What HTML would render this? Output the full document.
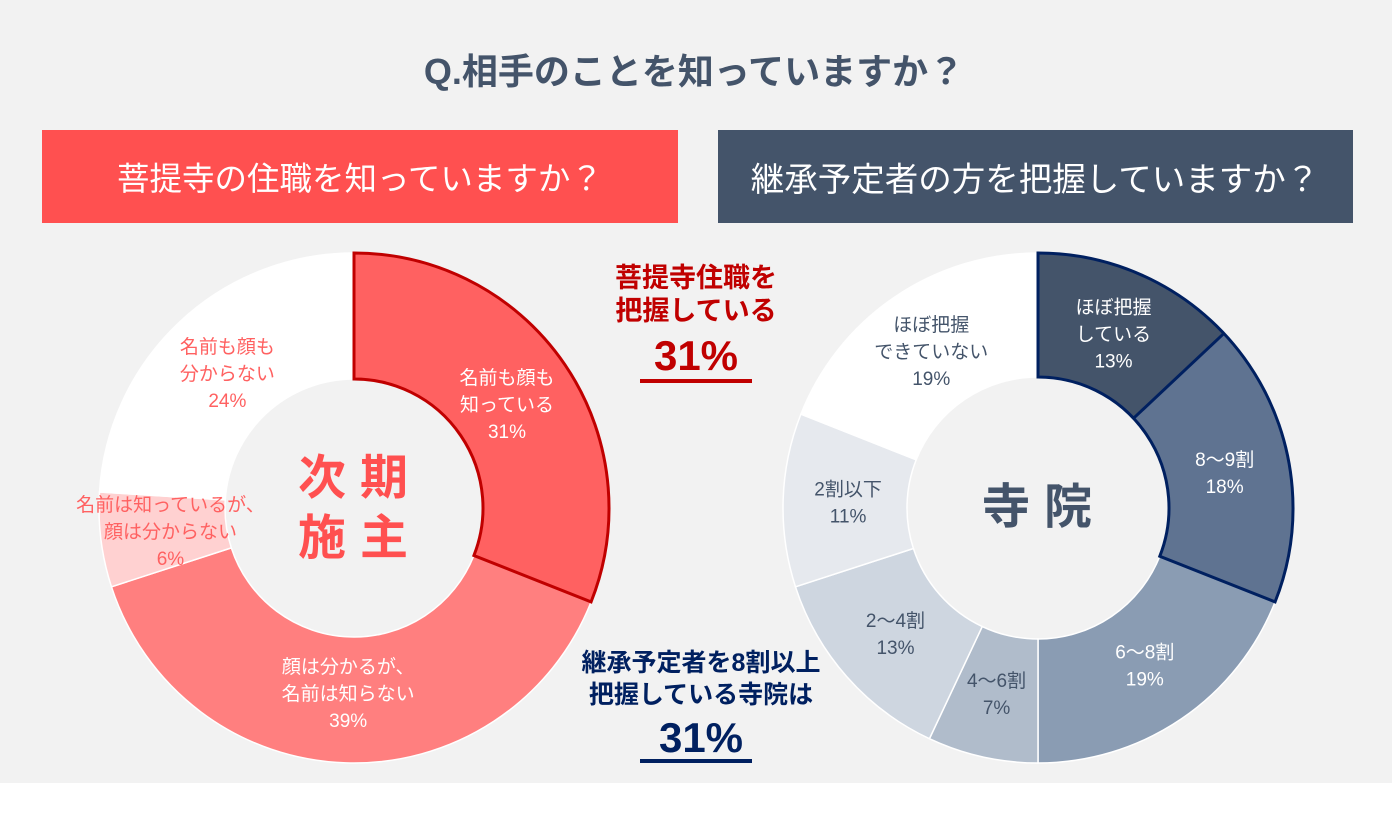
<!DOCTYPE html>
<html><head><meta charset="utf-8">
<style>
body{margin:0;width:1392px;height:819px;background:#fff;font-family:"Liberation Sans","Noto Sans CJK JP",sans-serif;overflow:hidden}
#bg{position:absolute;left:0;top:0;width:1392px;height:783px;background:#f2f2f2}
svg{position:absolute;left:0;top:0}
</style></head><body>
<div id="bg"></div>
<svg id="s" width="1392" height="819">
<text x="694" y="84" text-anchor="middle" font-size="36" font-weight="bold" fill="#44546a">Q.相手のことを知っていますか？</text>
<rect x="42" y="130" width="636" height="93" fill="#ff5050"/>
<text x="360" y="190" text-anchor="middle" font-size="32.5" fill="#fff">菩提寺の住職を知っていますか？</text>
<rect x="718" y="130" width="635" height="93" fill="#44546a"/>
<text x="1035" y="191" text-anchor="middle" font-size="33.5" fill="#fff">継承予定者の方を把握していますか？</text>
<g fill="#c00000" font-weight="bold" text-anchor="middle">
<text x="696" y="287" font-size="27">菩提寺住職を</text>
<text x="696" y="320" font-size="27">把握している</text>
<text x="696" y="370" font-size="42">31%</text>
<rect x="640" y="379" width="112" height="4"/>
</g>
<g fill="#002060" font-weight="bold" text-anchor="middle">
<text x="701" y="671" font-size="25">継承予定者を8割以上</text>
<text x="701" y="703" font-size="25">把握している寺院は</text>
<text x="701" y="752" font-size="42">31%</text>
<rect x="640" y="759" width="112" height="4"/>
</g>
</svg>
<script>
const leftValues=[31,39,6,24];
const leftLabels=[["名前も顔も","知っている","31%"],["顔は分かるが、","名前は知らない","39%"],["名前は知っているが、","顔は分からない","6%"],["名前も顔も","分からない","24%"]];
const rightValues=[13,18,19,7,13,11,19];
const rightLabels=[["ほぼ把握","している","13%"],["8～9割","18%"],["6～8割","19%"],["4～6割","7%"],["2～4割","13%"],["2割以下","11%"],["ほぼ把握","できていない","19%"]];
const NS="http://www.w3.org/2000/svg";
const svg=document.getElementById('s');
function pt(cx,cy,r,a){return [cx+r*Math.sin(a),cy-r*Math.cos(a)];}
function donut(cfg){
 const tot=cfg.values.reduce((a,b)=>a+b,0);let acc=0;
 const g=document.createElementNS(NS,'g');svg.appendChild(g);
 
 
 const labelLayer=[];
 cfg.values.forEach((v,i)=>{
  const a0=acc/tot*2*Math.PI;acc+=v;const a1=acc/tot*2*Math.PI;
  const [x0,y0]=pt(cfg.cx,cfg.cy,cfg.R,a0),[x1,y1]=pt(cfg.cx,cfg.cy,cfg.R,a1);
  const [x2,y2]=pt(cfg.cx,cfg.cy,cfg.r,a1),[x3,y3]=pt(cfg.cx,cfg.cy,cfg.r,a0);
  const lg=(a1-a0)>Math.PI?1:0;
  const p=document.createElementNS(NS,'path');
  p.setAttribute('d',`M${x0},${y0}A${cfg.R},${cfg.R} 0 ${lg} 1 ${x1},${y1}L${x2},${y2}A${cfg.r},${cfg.r} 0 ${lg} 0 ${x3},${y3}Z`);
  p.setAttribute('fill',cfg.colors[i]);p.setAttribute('stroke','#fff');p.setAttribute('stroke-width','1.5');
  
  
  g.appendChild(p);
  const am=(a0+a1)/2;const [lx,ly]=pt(cfg.cx,cfg.cy,cfg.lr,am);
  const lines=cfg.labels[i];const lh=27;const sy=ly-(lines.length-1)*lh/2+7;
  const t=document.createElementNS(NS,'text');
  t.setAttribute('text-anchor','middle');t.setAttribute('font-size','19');t.setAttribute('fill',cfg.textColors[i]);
  
  
  lines.forEach((s,k)=>{const ts=document.createElementNS(NS,'tspan');ts.setAttribute('x',lx);ts.setAttribute('y',sy+k*lh);ts.textContent=s;t.appendChild(ts);});
  labelLayer.push(t);
 });
 const hiEnd=cfg.hi.reduce((s,i)=>s+cfg.values[i],0)/tot*2*Math.PI;
 const [hx1,hy1]=pt(cfg.cx,cfg.cy,cfg.R,hiEnd),[hx2,hy2]=pt(cfg.cx,cfg.cy,cfg.r,hiEnd);
 const b=document.createElementNS(NS,'path');
 b.setAttribute('d',`M${cfg.cx},${cfg.cy-cfg.R}A${cfg.R},${cfg.R} 0 0 1 ${hx1},${hy1}L${hx2},${hy2}A${cfg.r},${cfg.r} 0 0 0 ${cfg.cx},${cfg.cy-cfg.r}Z`);
 b.setAttribute('fill','none');b.setAttribute('stroke',cfg.hiColor);b.setAttribute('stroke-width','3');
 
 
 g.appendChild(b);
 if(cfg.innerBorders){let s=0;cfg.hi.slice(0,-1).forEach(i=>{s+=cfg.values[i];const an=s/tot*2*Math.PI;const [ax,ay]=pt(cfg.cx,cfg.cy,cfg.R,an),[bx,by]=pt(cfg.cx,cfg.cy,cfg.r,an);const l=document.createElementNS(NS,'line');l.setAttribute('x1',ax);l.setAttribute('y1',ay);l.setAttribute('x2',bx);l.setAttribute('y2',by);l.setAttribute('stroke',cfg.hiColor);l.setAttribute('stroke-width','3');
 
 
 g.appendChild(l);});}
 labelLayer.forEach(t=>g.appendChild(t));
}
donut({name:'left-donut',cx:354,cy:508,R:255,r:129,lr:185,values:leftValues,labels:leftLabels,
 colors:['#ff6161','#ff7f7f','#ffd1d1','#ffffff'],textColors:['#fff','#fff','#ff6161','#ff6161'],hi:[0],hiColor:'#c00000'});
donut({name:'right-donut',cx:1038,cy:508,R:255,r:131,lr:190,values:rightValues,labels:rightLabels,
 colors:['#44546a','#5f7391','#8a9cb3','#b0bccb','#ced6e0','#e6e9ee','#ffffff'],textColors:['#fff','#fff','#fff','#44546a','#44546a','#44546a','#44546a'],hi:[0,1],hiColor:'#002060',innerBorders:true});
function center(x,y,lines,color,name,gap){
 lines.forEach((s,k)=>{const t=document.createElementNS(NS,'text');t.setAttribute('x',x);t.setAttribute('y',y+k*gap);t.setAttribute('text-anchor','middle');t.setAttribute('font-size','48');t.setAttribute('font-weight','bold');t.setAttribute('fill',color);t.setAttribute('letter-spacing','14');t.textContent=s;
 
 
 svg.appendChild(t);});
}
center(360,494,['次期','施主'],'#ff5050','left-center-label',60);
center(1044,523,['寺院'],'#44546a','right-center-label',0);
</script>
</body></html>
